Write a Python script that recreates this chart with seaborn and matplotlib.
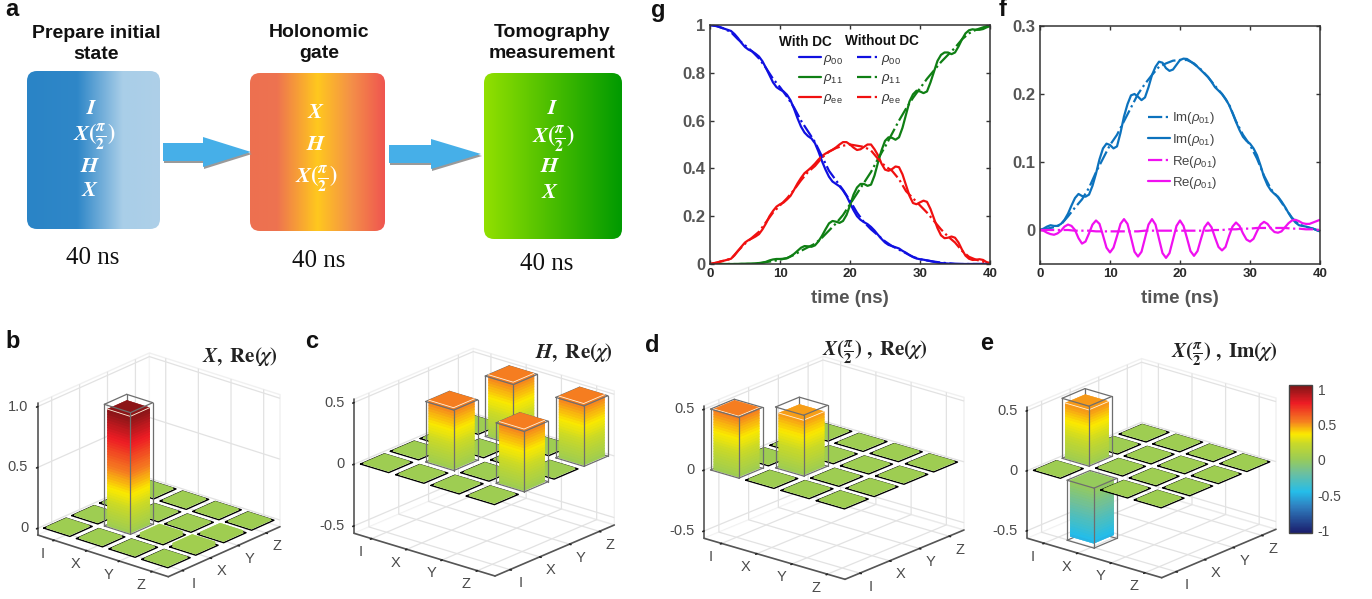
import math
import numpy as np
import matplotlib
matplotlib.use("Agg")
import matplotlib.pyplot as plt
import seaborn as sns
from matplotlib.colors import LinearSegmentedColormap, Normalize
from matplotlib.cm import ScalarMappable
from matplotlib.patches import FancyBboxPatch, Polygon
from mpl_toolkits.mplot3d import proj3d

# populations, solid = with DC (every 0.5 ns), dash-dot = without DC (every 1 ns)
rho00_dc = [1.0,.998,.995,.99,.985,.98,.975,.962,.945,.925,.908,.897,.89,.88,.868,.848,.82,.79,.76,.74,.73,.722,.708,.685,.65,.61,.575,.55,.535,.525,.505,.47,.43,.395,.365,.345,.335,.325,.308,.285,.255,.225,.2,.185,.175,.167,.155,.14,.122,.105,.09,.08,.075,.07,.065,.055,.047,.037,.029,.023,.02,.018,.015,.012,.009,.006,.004,.003,.002,.001,0,0,0,0,0,0,0,0,0,0,0]
rho11_dc = [0,0,0,0,0,0,0,0,0,.001,.001,.002,.002,.003,.004,.006,.009,.015,.019,.021,.021,.022,.024,.032,.042,.055,.068,.075,.074,.072,.078,.095,.118,.145,.17,.18,.177,.172,.18,.205,.245,.29,.32,.335,.335,.327,.332,.37,.425,.475,.515,.53,.528,.52,.53,.57,.625,.68,.71,.725,.722,.715,.722,.76,.805,.85,.875,.885,.885,.878,.885,.91,.94,.965,.978,.982,.98,.98,.983,.99,.995]
rhoee_dc = [0,.003,.006,.011,.014,.018,.022,.036,.055,.073,.09,.1,.107,.115,.125,.145,.17,.2,.222,.24,.25,.257,.27,.285,.31,.337,.36,.38,.392,.405,.42,.437,.452,.462,.47,.478,.488,.5,.51,.51,.5,.487,.477,.48,.49,.5,.5,.48,.455,.42,.395,.39,.397,.408,.405,.375,.33,.285,.255,.25,.258,.265,.26,.23,.19,.15,.12,.108,.11,.115,.11,.09,.06,.035,.022,.017,.018,.02,.017,.008,.004]
rho00_no = [1,.995,.985,.97,.94,.915,.89,.86,.82,.775,.74,.70,.655,.60,.555,.51,.45,.39,.35,.31,.265,.215,.175,.145,.12,.095,.075,.06,.045,.03,.02,.015,.01,.006,.003,.001,0,0,0,0,0]
rho11_no = [0,0,0,0,0,0,0,.002,.008,.012,.018,.025,.038,.055,.07,.085,.11,.14,.17,.205,.25,.295,.34,.385,.44,.49,.545,.6,.65,.695,.735,.775,.81,.845,.875,.905,.94,.965,.98,.99,1.0]
rhoee_no = [0,.006,.014,.022,.055,.085,.11,.135,.175,.215,.245,.275,.31,.35,.385,.41,.445,.47,.485,.495,.5,.495,.49,.475,.44,.41,.39,.355,.305,.275,.245,.215,.18,.145,.115,.09,.055,.03,.018,.01,.002]

# coherence
im_dc = [0,.002,.005,.007,.006,.006,.009,.015,.024,.036,.047,.053,.05,.049,.052,.065,.083,.104,.12,.127,.125,.12,.123,.143,.167,.185,.198,.2,.196,.191,.195,.21,.228,.24,.2475,.246,.238,.234,.236,.243,.25,.252,.2515,.248,.244,.24,.235,.23,.225,.218,.21,.205,.2,.193,.184,.172,.159,.147,.137,.131,.127,.12,.11,.095,.078,.066,.058,.053,.049,.042,.034,.025,.017,.011,.007,.006,.005,.003,.002,0,-.002]
re_dc = [0,-.001,-.004,-.006,-.007,-.005,-.001,.005,.008,.006,0,-.012,-.02,-.017,-.005,.008,.014,.009,-.008,-.026,-.033,-.026,-.009,.009,.016,.009,-.011,-.032,-.039,-.032,-.012,.008,.016,.008,-.013,-.034,-.041,-.034,-.014,.006,.014,.006,-.012,-.031,-.038,-.031,-.013,.004,.011,.004,-.011,-.025,-.03,-.025,-.009,.005,.011,.006,-.005,-.014,-.017,-.013,-.002,.008,.012,.009,.002,-.003,-.004,-.002,.004,.01,.014,.015,.013,.01,.009,.009,.011,.013,.015]
im_no = [0,.002,.004,.008,.02,.033,.045,.062,.085,.105,.125,.14,.16,.18,.2,.215,.228,.24,.245,.249,.25,.25,.245,.236,.225,.212,.2,.185,.16,.14,.125,.105,.08,.06,.048,.033,.018,.008,.005,.002,-.002]
re_no = [0,0,0,0,0,-.001,-.001,-.001,-.002,-.002,-.002,-.002,-.002,-.002,-.002,-.001,-.001,-.001,-.001,-.001,-.001,-.001,-.001,-.001,-.001,0,0,.001,.001,.002,.002,.003,.003,.003,.003,.003,.002,.002,.001,.001,0]

# process matrices, row = x label, column = y label
labels = ["I", "X", "Y", "Z"]
chi_b = [[.01,.01,.01,.01],[.01,.96,.01,.01],[.01,.03,.01,.01],[.01,.03,.02,.01]]
ideal_b = [[0,0,0,0],[0,1,0,0],[0,0,0,0],[0,0,0,0]]
chi_c = [[.01,.01,.01,.01],[.01,.5,.01,.5],[.01,.01,.01,.01],[.01,.5,.01,.5]]
ideal_c = [[0,0,0,0],[0,.49,0,.49],[0,0,0,0],[0,.49,0,.49]]
chi_d = [[.5,.01,.01,.01],[.01,.45,.01,.01],[.01,.01,.01,.01],[.01,.01,.01,.01]]
ideal_d = [[.5,0,0,0],[0,.5,0,0],[0,0,0,0],[0,0,0,0]]
chi_e = [[.01,.46,.01,.01],[-.47,.01,.01,.01],[.01,.01,.01,.01],[.01,.01,.01,.01]]
ideal_e = [[0,.5,0,0],[-.5,0,0,0],[0,0,0,0],[0,0,0,0]]

W, H = 1372, 599

sns.set_theme(style="ticks")
plt.rcParams["font.family"] = ["Liberation Sans", "DejaVu Sans"]
plt.rcParams["mathtext.fontset"] = "custom"
plt.rcParams["mathtext.rm"] = "Liberation Sans"
plt.rcParams["mathtext.it"] = "Liberation Sans:italic"
plt.rcParams["mathtext.bf"] = "Liberation Sans:bold"
plt.rcParams["grid.color"] = "#e2e2e2"
plt.rcParams["grid.linewidth"] = 0.9

cmap = LinearSegmentedColormap.from_list("chi", [
    (0.0, "#1b1f6e"), (0.175, "#2f7fc0"), (0.275, "#25bde9"), (0.4, "#6cbf9f"),
    (0.5, "#9bcc55"), (0.6, "#c8d92a"), (0.665, "#fbe900"), (0.75, "#f57f20"),
    (0.875, "#ed1c24"), (1.0, "#7b1416")])
norm = Normalize(-1, 1)

fig = plt.figure(figsize=(W / 100, H / 100), dpi=100)
over = fig.add_axes([0, 0, 1, 1])
over.set_xlim(0, W)
over.set_ylim(H, 0)
over.axis("off")
over.set_zorder(10)


def put(x, y, s, **kw):
    kw.setdefault("ha", "center")
    kw.setdefault("va", "center")
    over.text(x, y, s, **kw)


def rect(x0, y0, x1, y1):
    return [x0 / W, 1 - y1 / H, (x1 - x0) / W, (y1 - y0) / H]


# panel a
def gradient_box(x0, y0, x1, y1, stops):
    grad = LinearSegmentedColormap.from_list("g", stops)
    im = over.imshow(np.linspace(0, 1, 256)[None, :], cmap=grad, aspect="auto",
                     extent=(x0, x1, y1, y0), zorder=1)
    box = FancyBboxPatch((x0 + 10, y0 + 10), x1 - x0 - 20, y1 - y0 - 20,
                         boxstyle="round,pad=10,rounding_size=10", fc="none", ec="none",
                         transform=over.transData)
    over.add_patch(box)
    im.set_clip_path(box)


gradient_box(27, 71, 160, 229, [(0, "#2a84c6"), (.38, "#2f87c8"), (.72, "#a9cee8"), (1, "#aed0e8")])
gradient_box(250, 73, 385, 231, [(0, "#ed7050"), (.2, "#ee7350"), (.5, "#ffc81e"), (.75, "#f49048"), (1, "#ef5550")])
gradient_box(484, 73, 622, 239, [(0, "#92e000"), (1, "#009a00")])
over.set_xlim(0, W)
over.set_ylim(H, 0)


def arrow(x0, xh, x1, yc):
    pts = [(x0, yc - 9), (xh, yc - 9), (xh, yc - 15), (x1, yc), (xh, yc + 15), (xh, yc + 9), (x0, yc + 9)]
    shadow = [(px + 1, py + 2) for px, py in pts]
    over.add_patch(Polygon(shadow, closed=True, fc="#9a9a9a", ec="none", zorder=2))
    over.add_patch(Polygon(pts, closed=True, fc="#46afe8", ec="none", zorder=3))


arrow(163, 203, 251, 152)
arrow(389, 431, 481, 154)

head = dict(fontsize=14, fontweight="bold", color="#111111", linespacing=1.3)
put(96, 44, "Prepare initial\nstate", **head)
put(319, 43, "Holonomic\ngate", **head)
put(552, 43, "Tomography\nmeasurement", **head)
for x, y in [(93, 258), (319, 261), (547, 264)]:
    put(x, y, "40 ns", fontsize=18, family="Liberation Serif", color="#111111")

gate = dict(color="white", fontsize=16, math_fontfamily="stix", zorder=5)
frac = r"$\mathbfit{X}\mathbf{(}\frac{\mathbfit{\pi}}{\mathbf{2}}\mathbf{)}$"
for x, y, s in [(92, 109, r"$\mathbfit{I}$"), (94, 137, frac), (90, 167, r"$\mathbfit{H}$"), (90, 191, r"$\mathbfit{X}$"),
                (316, 112, r"$\mathbfit{X}$"), (316, 144, r"$\mathbfit{H}$"), (316, 179, frac),
                (553, 109, r"$\mathbfit{I}$"), (553, 139, frac), (550, 167, r"$\mathbfit{H}$"), (550, 192, r"$\mathbfit{X}$")]:
    put(x, y, s, **gate)

for x, y, s in [(12, 9, "a"), (658, 10, "g"), (1003, 10, "f"), (13, 341, "b"),
                (312, 342, "c"), (652, 345, "d"), (987, 343, "e")]:
    put(x, y, s, fontsize=17, fontweight="bold", color="#111111")


# panels g and f
def style_lines(ax):
    ax.set_xlim(0, 40)
    ax.set_xticks([0, 10, 20, 30, 40])
    ax.tick_params(direction="in", top=True, right=True, length=3, width=1, color="#333333")
    ax.tick_params(axis="x", labelsize=9.5, labelcolor="#2a2a2a", pad=3)
    ax.tick_params(axis="y", labelsize=12, labelcolor="#555555", pad=3.5)
    for lab in ax.get_xticklabels() + ax.get_yticklabels():
        lab.set_fontweight("bold")
    for sp in ax.spines.values():
        sp.set_color("#333333")
        sp.set_linewidth(1.1)
    ax.set_xlabel("time (ns)", fontsize=13.5, fontweight="bold", color="#555555", labelpad=7)
    ax.set_ylabel("")


t_half = np.linspace(0, 40, 81)
t_one = np.linspace(0, 40, 41)

ax_g = fig.add_axes(rect(710, 25, 990, 264))
for t, vals, col, ls, lab in [
    (t_half, rho00_dc, "#1010e0", "-", r"$\rho_{\mathrm{00}}$"),
    (t_half, rho11_dc, "#0f7f14", "-", r"$\rho_{\mathrm{11}}$"),
    (t_half, rhoee_dc, "#f01010", "-", r"$\rho_{\mathrm{ee}}$"),
    (t_one, rho00_no, "#1010e0", "-.", r"$\rho_{\mathrm{00}}$"),
    (t_one, rho11_no, "#0f7f14", "-.", r"$\rho_{\mathrm{11}}$"),
    (t_one, rhoee_no, "#f01010", "-.", r"$\rho_{\mathrm{ee}}$"),
]:
    sns.lineplot(x=t, y=vals, color=col, linestyle=ls, linewidth=1.6, label=lab, ax=ax_g)
ax_g.set_ylim(0, 1)
ax_g.set_yticks([0, .2, .4, .6, .8, 1])
ax_g.set_yticklabels(["0", "0.2", "0.4", "0.6", "0.8", "1"])
style_lines(ax_g)
ax_g.legend(ncol=2, frameon=False, fontsize=9.5, loc="upper left", bbox_to_anchor=(0.318, 0.885),
            handlelength=1.65, handletextpad=0.2, columnspacing=1.0, labelspacing=0.42,
            borderpad=0, borderaxespad=0, labelcolor="#333333")
put(805, 42, "With DC", fontsize=9.8, fontweight="bold", color="#111111")
put(882, 41, "Without DC", fontsize=9.8, fontweight="bold", color="#111111")

ax_f = fig.add_axes(rect(1040, 26, 1320, 264))
for t, vals, col, ls, lab in [
    (t_one, im_no, "#0c72bd", "-.", r"Im($\rho_{\mathrm{01}}$)"),
    (t_half, im_dc, "#0c72bd", "-", r"Im($\rho_{\mathrm{01}}$)"),
    (t_one, re_no, "#f010f0", "-.", r"Re($\rho_{\mathrm{01}}$)"),
    (t_half, re_dc, "#f010f0", "-", r"Re($\rho_{\mathrm{01}}$)"),
]:
    sns.lineplot(x=t, y=vals, color=col, linestyle=ls, linewidth=1.6, label=lab, ax=ax_f)
ax_f.set_ylim(-.05, .3)
ax_f.set_yticks([0, .1, .2, .3])
ax_f.set_yticklabels(["0", "0.1", "0.2", "0.3"])
style_lines(ax_f)
ax_f.legend(frameon=False, fontsize=9.5, loc="upper left", bbox_to_anchor=(0.385, 0.645),
            handlelength=1.65, handletextpad=0.2, labelspacing=0.42,
            borderpad=0, borderaxespad=0, labelcolor="#444444")


# panels b to e
def wire(ax, x, y, v, order):
    d = 0.4
    x0, x1, y0, y1 = x - d, x + d, y - d, y + d
    if v == 0:
        ax.plot([x0, x1, x1, x0, x0], [y0, y0, y1, y1, y0], [0] * 5, color="black", lw=1.0, zorder=order)
        return
    c = "#6e6e6e"
    back = [([x0, x0], [y0, y1], [0, 0]), ([x0, x1], [y1, y1], [0, 0]), ([x0, x0], [y1, y1], [0, v]),
            ([x0, x0], [y0, y1], [v, v]), ([x0, x1], [y1, y1], [v, v])]
    for xs, ys, zs in back:
        ax.plot(xs, ys, zs, color=c, lw=0.9, zorder=order)


def wire_front(ax, x, y, v, order):
    d = 0.4
    x0, x1, y0, y1 = x - d, x + d, y - d, y + d
    c = "#6e6e6e"
    front = [([x0, x1], [y0, y0], [0, 0]), ([x1, x1], [y0, y1], [0, 0]), ([x1, x1], [y0, y0], [0, v]),
             ([x0, x0], [y0, y0], [0, v]), ([x1, x1], [y1, y1], [0, v]),
             ([x0, x1], [y0, y0], [v, v]), ([x1, x1], [y0, y1], [v, v])]
    for xs, ys, zs in front:
        ax.plot(xs, ys, zs, color=c, lw=0.9, zorder=order)


def bars(ax, chi, ideal):
    order = 10
    cells = sorted(((i, j) for i in range(4) for j in range(4)), key=lambda c: c[0] - c[1])
    w = 0.7
    for i, j in cells:
        x, y = i + 1, j + 1
        v = chi[i][j]
        wire(ax, x, y, ideal[i][j], order)
        order += 1
        n = max(1, int(round(abs(v) / 0.022)))
        edges = np.linspace(min(v, 0), max(v, 0), n + 1)
        for k in range(n):
            col = cmap(norm(edges[k + 1] if v > 0 else edges[k]))
            ax.bar3d(x - w / 2, y - w / 2, edges[k], w, w, edges[k + 1] - edges[k], color=col,
                     shade=False, zorder=order, edgecolor=col, linewidth=0.15)
            order += 1
        if v > 0.1:
            # light rim along the front of the bar top
            ax.plot([x - w / 2, x + w / 2, x + w / 2], [y - w / 2, y - w / 2, y + w / 2], [v, v, v],
                    color="#fff2dc", lw=0.6, zorder=order)
            order += 1
        if ideal[i][j] != 0:
            wire_front(ax, x, y, ideal[i][j], order)
            order += 1


def to_px(ax, x, y, z):
    vx, vy, _ = proj3d.proj_transform(x, y, z, ax.get_proj())
    px, py = ax.transData.transform((vx, vy))
    return px, H - py


def place(ax, left, front, right, zlim, z_px):
    # fix camera and box so the floor corners land on the wanted pixels
    s1 = (front[1] - left[1]) / (front[0] - left[0])
    s2 = (front[1] - right[1]) / (right[0] - front[0])
    elev = math.asin(math.sqrt(s1 * s2))
    th = math.atan(math.sqrt(s1 / s2))
    ax.view_init(elev=math.degrees(elev), azim=-90 + math.degrees(th))
    lx = (front[0] - left[0]) / math.cos(th)
    ly = (right[0] - front[0]) / math.sin(th)
    lz = (zlim[1] - zlim[0]) * z_px / math.cos(elev)
    ax.set_box_aspect((lx, ly, lz))
    ax.set_xlim(.5, 4.5, view_margin=0)
    ax.set_ylim(.5, 4.5, view_margin=0)
    ax.set_zlim(*zlim, view_margin=0)
    size = 300.0
    ax.set_position([0, 0, size / W, size / H])
    ax.apply_aspect()
    a = to_px(ax, .5, .5, zlim[0])
    b = to_px(ax, 4.5, .5, zlim[0])
    size = size * (front[0] - left[0]) / (b[0] - a[0])
    ax.set_position([0, 0, size / W, size / H])
    ax.apply_aspect()
    b = to_px(ax, 4.5, .5, zlim[0])
    ax.set_position([(front[0] - b[0]) / W, (b[1] - front[1]) / H, size / W, size / H])
    ax.apply_aspect()


def panel3d(chi, ideal, left, front, right, zlim, z_px, zticks, zlabels):
    ax = fig.add_axes([0, 0, .3, .3], projection="3d", proj_type="ortho", computed_zorder=False)
    ax.patch.set_visible(False)
    bars(ax, chi, ideal)
    ax.set_xticks([1, 2, 3, 4])
    ax.set_yticks([1, 2, 3, 4])
    ax.set_zticks(zticks)
    # tick labels go in by hand, mplot3d cannot offset them the way the target does
    ax.set_xticklabels([])
    ax.set_yticklabels([])
    ax.set_zticklabels([])
    for axis in (ax.xaxis, ax.yaxis, ax.zaxis):
        axis.pane.set_facecolor((1, 1, 1, 0))
        axis.pane.set_edgecolor("#e2e2e2")
        axis.line.set_color("#555555")
        axis.line.set_linewidth(1.2)
        axis._axinfo["tick"]["inward_factor"] = 0.12
        axis._axinfo["tick"]["outward_factor"] = 0.0
        axis._axinfo["tick"]["color"] = "#555555"
    ax.zaxis.set_ticks_position("lower")
    place(ax, left, front, right, zlim, z_px)
    lab = dict(fontsize=10.5, color="#4a4a4a")
    for k, s in enumerate(labels):
        px, py = to_px(ax, k + 1, .5, zlim[0])
        put(px - 11, py + 13.5, s, **lab)
        px, py = to_px(ax, 4.5, k + 1, zlim[0])
        put(px + 11, py + 13.5, s, **lab)
    for z, s in zip(zticks, zlabels):
        px, py = to_px(ax, .5, .5, z)
        put(px - 9.5, py, s, ha="right", **lab)
    return ax


panel3d(chi_b, ideal_b, (37.7, 535), (168.3, 576.7), (280, 526.7), (-.055, 1.03), 121.7, [0, .5, 1], ["0", "0.5", "1.0"])
panel3d(chi_c, ideal_c, (354, 533.3), (495, 576), (614.3, 525), (-.56, .527), 123.3, [-.5, 0, .5], ["-0.5", "0", "0.5"])
panel3d(chi_d, ideal_d, (704, 538.3), (845, 579.3), (964, 530), (-.56, .53), 121.7, [-.5, 0, .5], ["-0.5", "0", "0.5"])
panel3d(chi_e, ideal_e, (1027.3, 538.3), (1161.7, 577.7), (1276, 529.3), (-.564, .53), 120, [-.5, 0, .5], ["-0.5", "0", "0.5"])

title = dict(fontsize=15, color="#222222", math_fontfamily="stix", zorder=5)
put(240, 357, r"$\mathbfit{X}\mathbf{,\ Re(}\boldsymbol{\chi}\mathbf{)}$", **title)
put(574, 352, r"$\mathbfit{H}\mathbf{,\ Re(}\boldsymbol{\chi}\mathbf{)}$", **title)
put(875, 352, r"$\mathbfit{X}\mathbf{(}\frac{\mathbfit{\pi}}{\mathbf{2}}\mathbf{)\ ,\ Re(}\boldsymbol{\chi}\mathbf{)}$", **title)
put(1224, 354, r"$\mathbfit{X}\mathbf{(}\frac{\mathbfit{\pi}}{\mathbf{2}}\mathbf{)\ ,\ Im(}\boldsymbol{\chi}\mathbf{)}$", **title)

# colour bar
cax = fig.add_axes(rect(1288.5, 384.5, 1312, 532.5))
cb = fig.colorbar(ScalarMappable(norm=Normalize(-1.03, 1.07), cmap=cmap), cax=cax, ticks=[-1, -.5, 0, .5, 1])
cb.ax.set_yticklabels(["-1", "-0.5", "0", "0.5", "1"])
cb.ax.tick_params(labelsize=10, labelcolor="#4a4a4a", length=0, pad=4)
cb.outline.set_edgecolor("#444444")
cb.outline.set_linewidth(1)

fig.savefig("out.png", dpi=100)
